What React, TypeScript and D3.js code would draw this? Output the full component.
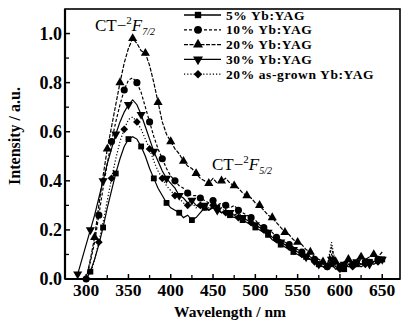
import React from 'react';
import * as d3 from 'd3';

// sampling grid (nm)
const wavelengths = [
  290, 295, 300, 305, 310, 315, 320, 325, 330, 335,
  340, 345, 350, 355, 360, 365, 370, 375, 380, 385,
  390, 395, 400, 405, 410, 415, 420, 425, 430, 435,
  440, 445, 450, 455, 460, 465, 470, 475, 480, 485,
  490, 495, 500, 505, 510, 515, 520, 525, 530, 535,
  540, 545, 550, 555, 560, 565, 570, 575, 580, 585,
  590, 595, 600, 605, 610, 615, 620, 625, 630, 635,
  640, 645, 650
];

const yb5 = [
  null, null, 0.00, 0.03, 0.08, 0.14, 0.21, 0.29, 0.36, 0.43,
  0.49, 0.54, 0.57, 0.58, 0.57, 0.54, 0.50, 0.45, 0.41, 0.37,
  0.34, 0.31, 0.29, 0.28, 0.27, 0.25, 0.26, 0.24, 0.25, 0.27,
  0.29, 0.28, 0.30, 0.29, 0.27, 0.28, 0.26, 0.25, 0.26, 0.24,
  0.23, 0.22, 0.21, 0.20, 0.19, 0.18, 0.16, 0.15, 0.14, 0.13,
  0.12, 0.11, 0.10, 0.09, 0.09, 0.08, 0.07, 0.06, 0.05, 0.04,
  0.06, 0.04, 0.05, 0.04, 0.06, 0.05, 0.06, 0.05, 0.06, 0.07,
  0.06, 0.07, 0.08
];

const yb10 = [
  null, null, 0.00, 0.07, 0.15, 0.26, 0.37, 0.47, 0.56, 0.64,
  0.71, 0.77, 0.81, 0.82, 0.80, 0.76, 0.70, 0.64, 0.58, 0.53,
  0.49, 0.45, 0.42, 0.40, 0.38, 0.37, 0.35, 0.34, 0.34, 0.33,
  0.32, 0.31, 0.32, 0.30, 0.31, 0.30, 0.29, 0.30, 0.28, 0.27,
  0.26, 0.25, 0.24, 0.22, 0.21, 0.20, 0.19, 0.17, 0.16, 0.15,
  0.14, 0.13, 0.12, 0.11, 0.10, 0.09, 0.08, 0.07, 0.06, 0.05,
  0.13, 0.06, 0.05, 0.06, 0.07, 0.06, 0.07, 0.06, 0.07, 0.08,
  0.07, 0.08, 0.09
];

const yb20 = [
  null, null, 0.00, 0.08, 0.17, 0.30, 0.42, 0.53, 0.62, 0.71,
  0.80, 0.88, 0.94, 0.98, 0.96, 0.93, 0.92, 0.87, 0.80, 0.72,
  0.64, 0.59, 0.56, 0.53, 0.51, 0.48, 0.46, 0.45, 0.43, 0.41,
  0.40, 0.39, 0.41, 0.39, 0.40, 0.41, 0.39, 0.38, 0.37, 0.35,
  0.34, 0.33, 0.31, 0.30, 0.28, 0.26, 0.25, 0.23, 0.21, 0.19,
  0.18, 0.16, 0.15, 0.14, 0.12, 0.11, 0.09, 0.08, 0.07, 0.06,
  0.10, 0.07, 0.06, 0.07, 0.08, 0.07, 0.08, 0.09, 0.08, 0.09,
  0.10, 0.09, 0.11
];

const yb30 = [
  0.02, 0.08, 0.14, 0.20, 0.26, 0.33, 0.40, 0.47, 0.53, 0.59,
  0.64, 0.68, 0.71, 0.73, 0.71, 0.67, 0.62, 0.57, 0.52, 0.48,
  0.44, 0.41, 0.39, 0.37, 0.34, 0.33, 0.31, 0.32, 0.30, 0.29,
  0.30, 0.28, 0.29, 0.28, 0.27, 0.28, 0.27, 0.26, 0.27, 0.25,
  0.24, 0.23, 0.22, 0.21, 0.20, 0.19, 0.17, 0.16, 0.15, 0.14,
  0.13, 0.12, 0.11, 0.10, 0.09, 0.08, 0.07, 0.06, 0.05, 0.05,
  0.08, 0.05, 0.04, 0.06, 0.05, 0.06, 0.07, 0.06, 0.07, 0.06,
  0.07, 0.08, 0.08
];

const yb20AsGrown = [
  null, null, null, 0.02, 0.08, 0.15, 0.23, 0.32, 0.41, 0.49,
  0.56, 0.61, 0.65, 0.66, 0.64, 0.61, 0.57, 0.53, 0.48, 0.44,
  0.41, 0.38, 0.36, 0.34, 0.33, 0.31, 0.30, 0.31, 0.29, 0.30,
  0.28, 0.29, 0.30, 0.28, 0.29, 0.27, 0.28, 0.26, 0.25, 0.26,
  0.24, 0.23, 0.22, 0.21, 0.20, 0.18, 0.17, 0.16, 0.15, 0.14,
  0.13, 0.12, 0.11, 0.10, 0.09, 0.08, 0.07, 0.06, 0.05, 0.05,
  0.15, 0.06, 0.04, 0.05, 0.06, 0.05, 0.07, 0.06, 0.06, 0.07,
  0.08, 0.07, 0.09
];

const seriesNames = ['5% Yb:YAG', '10% Yb:YAG', '20% Yb:YAG', '30% Yb:YAG', '20% as-grown Yb:YAG'];
const xTicks = [300, 350, 400, 450, 500, 550, 600, 650];
const yTicks = [0, 0.2, 0.4, 0.6, 0.8, 1.0];

const W = 403;
const H = 324;
const FONT = '"Liberation Serif", "Times New Roman", serif';

const x = d3.scaleLinear().domain([275, 671]).range([65, 400]);
const y = d3.scaleLinear().domain([0, 1.1]).range([279, 9]);

const styles = [
  { values: yb5, symbol: d3.symbolSquare, rotate: 0, size: 34, dash: null },
  { values: yb10, symbol: d3.symbolCircle, rotate: 0, size: 40, dash: '3,2' },
  { values: yb20, symbol: d3.symbolTriangle, rotate: 0, size: 36, dash: '4,1.5' },
  { values: yb30, symbol: d3.symbolTriangle, rotate: 180, size: 36, dash: null },
  { values: yb20AsGrown, symbol: d3.symbolSquare, rotate: 45, size: 30, dash: '1.2,2' }
];

const Marker = ({ s, cx, cy }: { s: any; cx: number; cy: number }) => (
  <path
    d={d3.symbol().type(s.symbol).size(s.size)() as string}
    transform={`translate(${cx},${cy}) rotate(${s.rotate})`}
    fill="#000"
  />
);

export default function App() {
  const line = d3
    .line<number | null>()
    .defined(d => d != null)
    .x((_, i) => x(wavelengths[i]))
    .y(d => y(d as number));

  const minorX = [275, 325, 375, 425, 475, 525, 575, 625];
  const minorY = [0.1, 0.3, 0.5, 0.7, 0.9];

  return (
    <svg width={W} height={H} style={{ position: 'absolute', left: 0, top: 0, background: '#fff' }} fontFamily={FONT}>
      {/* curves */}
      {styles.map((s, si) => (
        <g key={si}>
          <path
            d={line(s.values as (number | null)[]) as string}
            fill="none"
            stroke="#000"
            strokeWidth={1.2}
            strokeDasharray={s.dash || undefined}
          />
          {s.values.map((v, i) =>
            v != null && (i + si) % 3 === 0 ? (
              <Marker key={i} s={s} cx={x(wavelengths[i])} cy={y(v)} />
            ) : null
          )}
        </g>
      ))}

      {/* frame */}
      <rect x={65} y={9} width={335} height={270} fill="none" stroke="#000" strokeWidth={1.6} />
      <line x1={65} x2={65} y1={9} y2={279} stroke="#000" strokeWidth={2.2} />
      <line x1={65} x2={400} y1={279} y2={279} stroke="#000" strokeWidth={2.2} />

      {/* x ticks */}
      {xTicks.map(t => (
        <g key={t}>
          <line x1={x(t)} x2={x(t)} y1={279} y2={274} stroke="#000" strokeWidth={1.5} />
          <text x={x(t)} y={296} textAnchor="middle" fontSize={17.5} fontWeight="bold">{t}</text>
        </g>
      ))}
      {minorX.map(t => (
        <line key={t} x1={x(t)} x2={x(t)} y1={279} y2={275} stroke="#000" strokeWidth={1.3} />
      ))}

      {/* y ticks */}
      {yTicks.map(t => (
        <g key={t}>
          <line x1={65} x2={70} y1={y(t)} y2={y(t)} stroke="#000" strokeWidth={1.5} />
          <text x={62} y={y(t) + 6} textAnchor="end" fontSize={18} fontWeight="bold">{t.toFixed(1)}</text>
        </g>
      ))}
      {minorY.map(t => (
        <line key={t} x1={65} x2={69} y1={y(t)} y2={y(t)} stroke="#000" strokeWidth={1.3} />
      ))}

      {/* axis titles */}
      <text x={230} y={317} textAnchor="middle" fontSize={15.5} fontWeight="bold">Wavelength / nm</text>
      <text transform="translate(20,136) rotate(-90)" textAnchor="middle" fontSize={16} fontWeight="bold">
        Intensity / a.u.
      </text>

      {/* band labels */}
      <text x={95} y={31} fontSize={17}>
        CT−<tspan dy={-7} fontSize={11}>2</tspan>
        <tspan dy={7} fontStyle="italic">F</tspan>
        <tspan dy={4} fontSize={10} fontStyle="italic">7/2</tspan>
      </text>
      <text x={212} y={170} fontSize={17}>
        CT−<tspan dy={-7} fontSize={11}>2</tspan>
        <tspan dy={7} fontStyle="italic">F</tspan>
        <tspan dy={4} fontSize={10} fontStyle="italic">5/2</tspan>
      </text>

      {/* legend */}
      {styles.map((s, i) => {
        const ly = 15 + i * 14.8;
        return (
          <g key={i}>
            <line x1={184} x2={221} y1={ly} y2={ly} stroke="#000" strokeWidth={1.3} strokeDasharray={s.dash || undefined} />
            <Marker s={{ ...s, size: s.size * 1.2 }} cx={198} cy={ly} />
            <text x={226} y={ly + 4.5} fontSize={13.5} fontWeight="bold" letterSpacing={0.6}>{seriesNames[i]}</text>
          </g>
        );
      })}
    </svg>
  );
}
